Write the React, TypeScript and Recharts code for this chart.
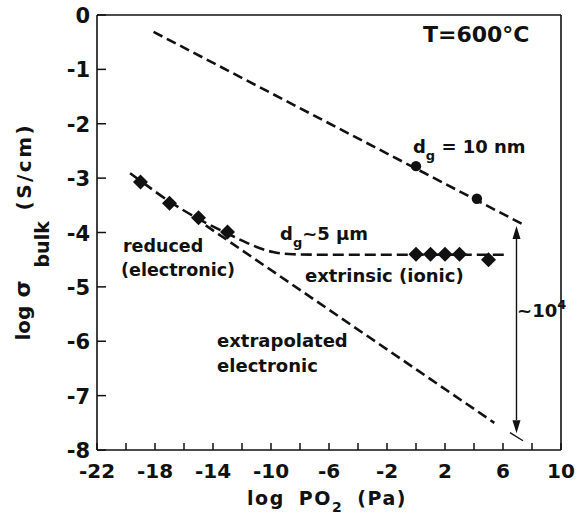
import React from 'react';
import {
  ComposedChart,
  Line,
  Scatter,
  XAxis,
  YAxis,
  ReferenceLine,
  ReferenceDot,
} from 'recharts';

const FONT = '"DejaVu Sans", Verdana, sans-serif';
const INK = '#111';

// ---- axis ticks ----
const xTicks = [-22, -20, -18, -16, -14, -12, -10, -8, -6, -4, -2, 0, 2, 4, 6, 8, 10];
const xTickLabels = [-22, -18, -14, -10, -6, -2, 2, 6, 10];
const yTicks = [0, -1, -2, -3, -4, -5, -6, -7, -8];

// ---- d_g = 10 nm ----
const nanoLineX = [-18.1, 7.3];
const nanoLineY = [-0.31, -3.84];
const nanoPointX = [0, 4.2];
const nanoPointY = [-2.78, -3.38];

// ---- d_g ~ 5 um ----
const microCurveX = [-19.72, -19, -17, -15, -13, -11.66, -10.76, -9.86, -8.48, -6, 6.2];
const microCurveY = [-2.91, -3.05, -3.43, -3.75, -4.02, -4.19, -4.29, -4.36, -4.4, -4.41, -4.41];
const microPointX = [-19, -17, -15, -13, 0, 1, 2, 3, 5];
const microPointY = [-3.07, -3.46, -3.73, -3.99, -4.4, -4.4, -4.4, -4.4, -4.5];

// ---- extrapolated electronic ----
const extrapX = [-14.5, 5.4];
const extrapY = [-3.87, -7.5];
const extrapTailX = [6.48, 7.38];
const extrapTailY = [-7.68, -7.83];

// ---- ~10^4 gap arrow ----
const gapArrowX = 6.93;
const gapArrowY = [-3.88, -7.69];

const zip = (xs: number[], ys: number[]) => xs.map((x, i) => ({ x, y: ys[i] }));

const nanoLine = zip(nanoLineX, nanoLineY);
const nanoPoints = zip(nanoPointX, nanoPointY);
const microCurve = zip(microCurveX, microCurveY);
const microPoints = zip(microPointX, microPointY);
const extrap = zip(extrapX, extrapY);
const extrapTail = zip(extrapTailX, extrapTailY);

type Part = [string, 'n' | 'sub' | 'sup'];

// annotations: anchor (start, baseline) in data coordinates
const annotations: { x: number; y: number; size: number; parts: Part[] }[] = [
  { x: 0.48, y: -0.5, size: 22, parts: [['T=600°C', 'n']] },
  { x: -0.21, y: -2.54, size: 18, parts: [['d', 'n'], ['g', 'sub'], [' = 10 nm', 'n']] },
  { x: -9.38, y: -4.14, size: 18, parts: [['d', 'n'], ['g', 'sub'], ['~5 µm', 'n']] },
  { x: -20.21, y: -4.36, size: 17.5, parts: [['reduced', 'n']] },
  { x: -20.34, y: -4.8, size: 17.5, parts: [['(electronic)', 'n']] },
  { x: -7.66, y: -4.91, size: 18, parts: [['extrinsic (ionic)', 'n']] },
  { x: -13.72, y: -6.11, size: 18, parts: [['extrapolated', 'n']] },
  { x: -13.72, y: -6.57, size: 18, parts: [['electronic', 'n']] },
  { x: 6.97, y: -5.55, size: 18, parts: [['~10', 'n'], ['4', 'sup']] },
];

const renderRich = (cx: number, cy: number, size: number, parts: Part[]) => {
  let shift = 0;
  const spans = parts.map(([t, kind], i) => {
    let target = 0;
    if (kind === 'sub') target = size * 0.38;
    if (kind === 'sup') target = -size * 0.45;
    const dy = target - shift;
    shift = target;
    return (
      <tspan key={i} dy={dy} fontSize={kind === 'n' ? size : size * 0.72}>
        {t}
      </tspan>
    );
  });
  return (
    <text x={cx} y={cy} fontFamily={FONT} fontWeight="bold" fill={INK} textAnchor="start">
      {spans}
    </text>
  );
};

const XTick = (props: any) => {
  const { x, y, payload } = props;
  const v = payload.value;
  return (
    <g>
      <line x1={x} x2={x} y1={y} y2={y - 7} stroke={INK} strokeWidth={1.5} />
      {xTickLabels.includes(v) && (
        <text
          x={x}
          y={y + 21}
          textAnchor="middle"
          dominantBaseline="central"
          fontFamily={FONT}
          fontWeight="bold"
          fontSize={20}
          fill={INK}
        >
          {String(v)}
        </text>
      )}
    </g>
  );
};

const YTick = (props: any) => {
  const { x, y, payload } = props;
  const v = payload.value;
  return (
    <g>
      <line x1={x} x2={x + 9} y1={y} y2={y} stroke={INK} strokeWidth={1.5} />
      <text
        x={x - 7}
        y={y + 1}
        textAnchor="end"
        dominantBaseline="central"
        fontFamily={FONT}
        fontWeight="bold"
        fontSize={21}
        fill={INK}
      >
        {String(v)}
      </text>
    </g>
  );
};

const rot = (bx: number, sy: number) => `translate(${bx},${sy}) rotate(-90)`;

const YLabel = (props: any) => {
  const vb = props.viewBox || { x: 0, y: 15, width: 97, height: 435 };
  const base = vb.x + 30;
  const mid = vb.y + vb.height / 2; // ~232
  const common = { fontFamily: FONT, fontWeight: 'bold' as const, fill: INK };
  return (
    <g>
      <text transform={rot(base, mid + 108)} fontSize={20} {...common}>log</text>
      <text transform={rot(base, mid + 65)} fontSize={22} {...common}>σ</text>
      <text transform={rot(base + 19, mid + 35)} fontSize={19} {...common}>bulk</text>
      <text transform={rot(base + 1, mid - 22)} fontSize={20} letterSpacing={2.5} {...common}>(S/cm)</text>
    </g>
  );
};

const XLabel = (props: any) => {
  const vb = props.viewBox || { x: 97, y: 450, width: 464, height: 75 };
  const cx = vb.x + vb.width / 2 - 2;
  return (
    <text
      x={cx}
      y={vb.y + 55}
      textAnchor="middle"
      fontFamily={FONT}
      fontWeight="bold"
      fontSize={19}
      letterSpacing={1.5}
      wordSpacing={6}
      fill={INK}
    >
      <tspan>log PO</tspan>
      <tspan fontSize={14} dy={7}>2</tspan>
      <tspan dy={-7}> (Pa)</tspan>
    </text>
  );
};

const Diamond = (props: any) => {
  const { cx, cy } = props;
  const h = 7.5;
  return (
    <polygon
      points={`${cx},${cy - h} ${cx + h},${cy} ${cx},${cy + h} ${cx - h},${cy}`}
      fill={INK}
    />
  );
};

const Dot = (props: any) => <circle cx={props.cx} cy={props.cy} r={5.2} fill={INK} />;

const GapArrow = (props: any) => {
  const { x1, y1, x2, y2 } = props;
  const top = Math.min(y1, y2);
  const bot = Math.max(y1, y2);
  const w = 4;
  const hl = 13;
  return (
    <g>
      <line x1={x1} x2={x2} y1={top + hl} y2={bot - hl} stroke={INK} strokeWidth={1.4} />
      <polygon points={`${x1},${top} ${x1 + w},${top + hl} ${x1 - w},${top + hl}`} fill={INK} />
      <polygon points={`${x1},${bot} ${x1 + w},${bot - hl} ${x1 - w},${bot - hl}`} fill={INK} />
    </g>
  );
};

export default function App() {
  return (
    <div style={{ position: 'absolute', left: 0, top: 0, background: '#fff' }}>
      <ComposedChart
        width={577}
        height={525}
        margin={{ top: 15, right: 16, bottom: 0, left: 0 }}
      >
        <XAxis
          type="number"
          dataKey="x"
          domain={[-22, 10]}
          ticks={xTicks}
          interval={0}
          height={75}
          tickSize={0}
          tickMargin={0}
          tickLine={false}
          axisLine={{ stroke: INK, strokeWidth: 1.6 }}
          tick={XTick}
          allowDataOverflow
          label={XLabel}
        />
        <YAxis
          type="number"
          dataKey="y"
          domain={[-8, 0]}
          ticks={yTicks}
          interval={0}
          width={97}
          tickSize={0}
          tickMargin={0}
          tickLine={false}
          axisLine={{ stroke: INK, strokeWidth: 1.6 }}
          tick={YTick}
          allowDataOverflow
          label={YLabel}
        />
        <ReferenceLine y={0} stroke={INK} strokeWidth={1.6} />
        <ReferenceLine x={10} stroke={INK} strokeWidth={1.6} />

        <Line
          data={nanoLine}
          dataKey="y"
          type="linear"
          stroke={INK}
          strokeWidth={2.6}
          strokeDasharray="10 5"
          dot={false}
          activeDot={false}
          isAnimationActive={false}
        />
        <Line
          data={extrap}
          dataKey="y"
          type="linear"
          stroke={INK}
          strokeWidth={2.6}
          strokeDasharray="10 5"
          dot={false}
          activeDot={false}
          isAnimationActive={false}
        />
        <Line
          data={extrapTail}
          dataKey="y"
          type="linear"
          stroke={INK}
          strokeWidth={1.4}
          dot={false}
          activeDot={false}
          isAnimationActive={false}
        />
        <Line
          data={microCurve}
          dataKey="y"
          type="monotone"
          stroke={INK}
          strokeWidth={2.6}
          strokeDasharray="11 5"
          dot={false}
          activeDot={false}
          isAnimationActive={false}
        />
        <Scatter data={nanoPoints} dataKey="y" shape={Dot} isAnimationActive={false} />
        <Scatter data={microPoints} dataKey="y" shape={Diamond} isAnimationActive={false} />

        <ReferenceLine
          segment={[
            { x: gapArrowX, y: gapArrowY[0] },
            { x: gapArrowX, y: gapArrowY[1] },
          ]}
          shape={GapArrow}
        />

        {annotations.map((a, i) => (
          <ReferenceDot
            key={i}
            x={a.x}
            y={a.y}
            r={0}
            ifOverflow="visible"
            shape={(p: any) => renderRich(p.cx, p.cy, a.size, a.parts)}
          />
        ))}
      </ComposedChart>
    </div>
  );
}
